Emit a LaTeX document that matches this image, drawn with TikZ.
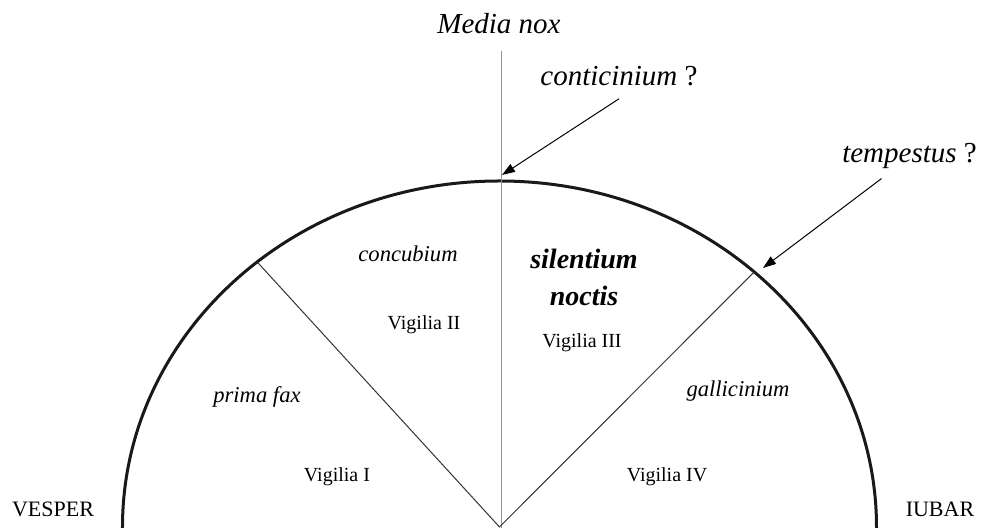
\documentclass[tikz,border=0pt]{standalone}
\usepackage{fontspec}
\setmainfont{Liberation Serif}
\usepackage{xcolor}
\usepackage{tikz}
\usetikzlibrary{arrows.meta}

\begin{document}
\begin{tikzpicture}[
    x=0.5pt, y=0.5pt,
    font=\fontsize{10}{12}\selectfont,
    istilah/.style={font=\fontsize{11.3}{13}\selectfont\itshape, inner sep=0pt,
                    anchor=base},
    jaga/.style={font=\fontsize{10}{12}\selectfont, inner sep=0pt, anchor=base},
    ufuk/.style={font=\fontsize{11}{13}\selectfont, inner sep=0pt, anchor=base},
    tanya/.style={font=\fontsize{14.5}{16}\selectfont\itshape, inner sep=0pt,
                  anchor=base},
    busur/.style={line width=1.5pt, black!90},
    jari/.style={line width=0.5pt, black!80},
    tegak/.style={line width=0.8pt, gray!85},
    panah/.style={-{Triangle[length=6.5pt, width=4.5pt]}, line width=0.5pt}
  ]
    \useasboundingbox (-499.5,-1) rectangle (485.5,527);
    \coordinate (pusat) at (0,0);
    \coordinate (kiri) at (130:377 and 346);
    \coordinate (kanan) at (47.5:377 and 346);
    \coordinate (puncak) at (2,476);
    \coordinate (dasar) at (2,-1);
    \coordinate (ujung1) at (2.5,352);
    \coordinate (ujung2) at (263.5,259);

    \draw[busur] (-377,-1) -- (-377,0)
      arc[start angle=180, end angle=0, x radius=377, y radius=346] -- (377,-1);
    \draw[tegak] (puncak) -- (dasar);
    \draw[jari] (kiri) -- (pusat) -- (kanan);

    \node[tanya] (media) at (-0.5,493) {Media nox};
    \node[tanya] (kontik) at (119.5,441) {conticinium {\upshape ?}};
    \node[tanya] (tempes) at (410,364) {tempestus {\upshape ?}};
    \draw[panah] ([yshift=-6pt]kontik.south) -- (ujung1);
    \draw[panah] ([xshift=-14pt, yshift=-4.5pt]tempes.south) -- (ujung2);

    \node[istilah] (konku) at (-91.5,265) {concubium};
    \node[font=\fontsize{14}{18.5}\selectfont\bfseries\itshape, align=center,
          inner sep=0pt] (silen) at (84.5,250) {silentium\\noctis};
    \node[istilah] (prima) at (-242.5,124) {prima fax};
    \node[istilah] (galli) at (238.5,130) {gallicinium};

    \node[jaga] (vig2) at (-75.5,197) {Vigilia II};
    \node[jaga] (vig3) at (82.5,179) {Vigilia III};
    \node[jaga] (vig1) at (-162.5,45) {Vigilia I};
    \node[jaga] (vig4) at (167.5,45) {Vigilia IV};

    \node[ufuk] (vesper) at (-446.5,10) {VESPER};
    \node[ufuk] (iubar) at (440.5,10) {IUBAR};
  \end{tikzpicture}
\end{document}
